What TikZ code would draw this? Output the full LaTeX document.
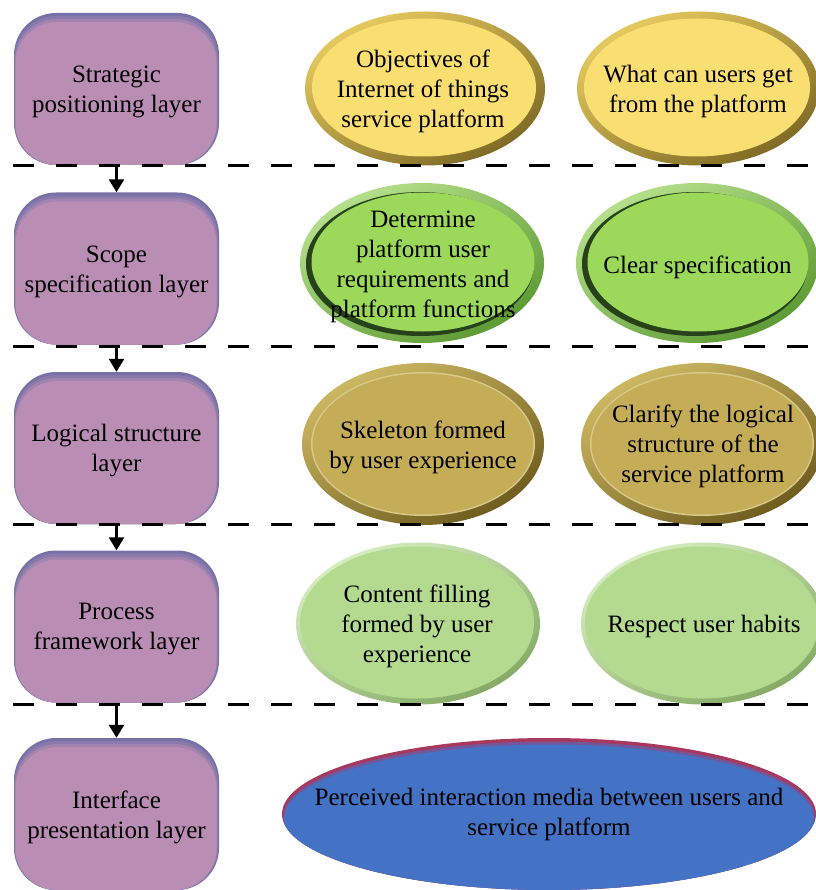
\documentclass[tikz,border=0pt]{standalone}
\usepackage{fontspec}
\setmainfont{Liberation Serif}
\usetikzlibrary{shapes.geometric,arrows.meta,calc}

% layer boxes
\definecolor{boxblue}{HTML}{7672A8}
\definecolor{boxpurple}{HTML}{BA8EB4}
% strategic row
\definecolor{goldlight}{HTML}{E6CA60}
\definecolor{golddark}{HTML}{7E6A24}
\definecolor{goldfill}{HTML}{F9DE72}
% scope row
\definecolor{grlight}{HTML}{B6E08C}
\definecolor{grdark}{HTML}{5C9A32}
\definecolor{grline}{HTML}{27421A}
\definecolor{grfill}{HTML}{9CD95B}
% logical row
\definecolor{ollight}{HTML}{CDB862}
\definecolor{oldark}{HTML}{6E5C1E}
\definecolor{olline}{HTML}{D9C98B}
\definecolor{olfill}{HTML}{C5AD57}
% process row
\definecolor{lglight}{HTML}{D6EEC0}
\definecolor{lgdark}{HTML}{84AA64}
\definecolor{lgfill}{HTML}{B4DA90}
% interface row
\definecolor{ifred}{HTML}{A8385C}
\definecolor{ifmid}{HTML}{74579A}
\definecolor{ifblue}{HTML}{4472C4}

% inner ellipse of an oval node: x shift, y shift, inset, colour
\newcommand\ovalfill[4]{%
  \fill[#4] let \p1=(path picture bounding box.north east),
               \p2=(path picture bounding box.center) in
    ([shift={(#1,#2)}]\p2) ellipse [x radius={\x1-\x2-#3}, y radius={\y1-\y2-#3}];}
% inner rounded rectangle of a layer box: left, top, right inset, colour
\newcommand\boxfill[4]{%
  \fill[#4, rounded corners=42pt]
    ([shift={(#1,-#2)}]path picture bounding box.north west) rectangle
    ([shift={(-#3,0pt)}]path picture bounding box.south east);}

\tikzset{
  txt/.style={align=center, inner sep=0pt, yshift=-3pt, font=\fontsize{25}{30}\selectfont},
  layerbox/.style={rectangle, rounded corners=42pt, minimum width=205pt,
    minimum height=152pt, inner sep=0pt, fill=boxblue,
    path picture={\boxfill{0.5pt}{3pt}{1pt}{boxblue!70!boxpurple}
                  \boxfill{1pt}{6pt}{2pt}{boxblue!35!boxpurple}
                  \boxfill{1.5pt}{9pt}{2.5pt}{boxpurple}}},
  oval/.style={ellipse, inner sep=0pt},
  goldoval/.style={oval, top color=goldlight, bottom color=golddark, shading angle=30,
    path picture={\ovalfill{-1pt}{1pt}{8pt}{goldfill}}},
  greenoval/.style={oval, top color=grlight, bottom color=grdark, shading angle=30,
    path picture={\ovalfill{-2pt}{-1pt}{8pt}{grline}\ovalfill{1pt}{1pt}{10.5pt}{grfill}}},
  oliveoval/.style={oval, top color=ollight, bottom color=oldark, shading angle=30,
    path picture={\ovalfill{0pt}{0pt}{9pt}{olline}\ovalfill{0pt}{0pt}{10.5pt}{olfill}}},
  lgoval/.style={oval, top color=lglight, bottom color=lgdark, shading angle=30,
    path picture={\ovalfill{-1pt}{1pt}{5pt}{lgfill}}},
  blueoval/.style={oval, fill=ifred,
    path picture={\ovalfill{0pt}{-2pt}{1.5pt}{ifmid}\ovalfill{0pt}{-4.5pt}{2pt}{ifblue}}},
  dashline/.style={line width=3pt, dash pattern=on 21pt off 22pt},
  flow/.style={line width=2.5pt, -{Triangle[length=13pt, width=15pt]}},
}

\begin{document}
\begin{tikzpicture}[x=1pt, y=-1pt]
\useasboundingbox (0,0) rectangle (815,890);

% layer boxes with their captions
\node[layerbox] (b1) at (116.5,89)    {};
\node[layerbox] (b2) at (116.5,268.5) {};
\node[layerbox] (b3) at (116.5,448)   {};
\node[layerbox] (b4) at (116.5,626.5) {};
\node[layerbox] (b5) at (116.5,814)   {};
\node[txt] (bt1) at (b1) {Strategic\\positioning layer};
\node[txt] (bt2) at (b2) {Scope\\specification layer};
\node[txt] (bt3) at (b3) {Logical structure\\layer};
\node[txt] (bt4) at (b4) {Process\\framework layer};
\node[txt] (bt5) at (b5) {Interface\\presentation layer};

% strategic row
\node[goldoval, minimum width=240pt, minimum height=154pt] (o11) at (425,88.5) {};
\node[txt] (t11) at (423,88.5) {Objectives of\\Internet of things\\service platform};
\node[goldoval, minimum width=242pt, minimum height=154pt] (o12) at (698,88.5) {};
\node[txt] (t12) at (o12) {What can users get\\from the platform};

% scope row
\node[greenoval, minimum width=244pt, minimum height=160pt] (o21) at (422,263) {};
\node[txt] (t21) at (423,264) {Determine\\platform user\\requirements and\\platform functions};
\node[greenoval, minimum width=242pt, minimum height=160pt] (o22) at (697,263) {};
\node[txt] (t22) at (697.5,264) {Clear specification};

% logical row
\node[oliveoval, minimum width=242pt, minimum height=162pt] (o31) at (423,444) {};
\node[txt] (t31) at (o31) {Skeleton formed\\by user experience};
\node[oliveoval, minimum width=242pt, minimum height=162pt] (o32) at (702,444) {};
\node[txt] (t32) at (703,443.5) {Clarify the logical\\structure of the\\service platform};

% process row
\node[lgoval, minimum width=244pt, minimum height=162pt] (o41) at (418,623.5) {};
\node[txt] (t41) at (417,623.5) {Content filling\\formed by user\\experience};
\node[lgoval, minimum width=244pt, minimum height=162pt] (o42) at (703,623.5) {};
\node[txt] (t42) at (704,623) {Respect user habits};

% interface row
\node[blueoval, minimum width=534pt, minimum height=152pt] (o5) at (549,814) {};
\node[txt] (t5) at (549,811) {Perceived interaction media between users and\\service platform};

% separators between layers
\foreach \i/\y in {1/166, 2/346, 3/524, 4/704} {
  \coordinate (s\i) at (13,\y);
  \coordinate (e\i) at (815,\y);
  \draw[dashline] (s\i) -- (e\i);
}

% flow from layer to layer
\draw[flow] (b1.south) -- (b2.north);
\draw[flow] (b2.south) -- (b3.north);
\draw[flow] (b3.south) -- (b4.north);
\draw[flow] (b4.south) -- (b5.north);
\end{tikzpicture}
\end{document}
